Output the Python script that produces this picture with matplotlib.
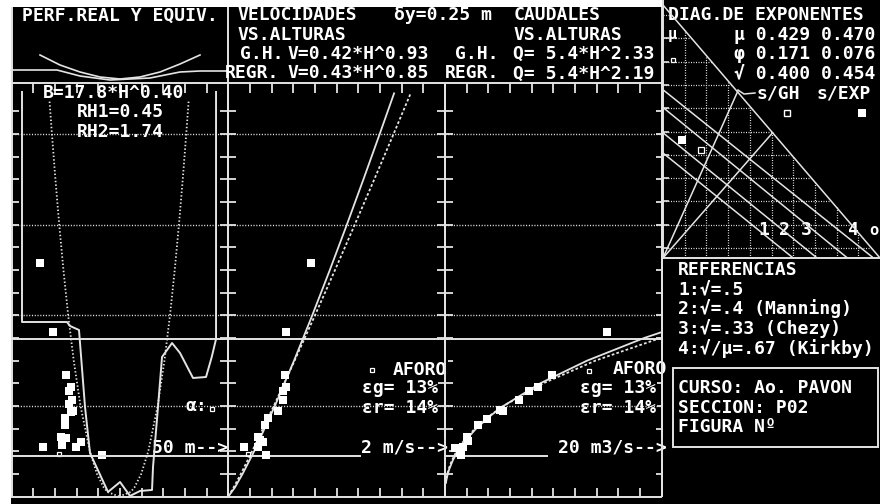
import matplotlib
matplotlib.use("Agg")
import matplotlib.pyplot as plt
from matplotlib.patches import Rectangle

# ---------------- data ----------------
# heights (m) used for the model curves
H_curve = [0.0, 0.1, 0.25, 0.5, 1.0, 1.5, 2.0, 2.5, 3.0, 3.5, 4.0, 4.45]
V_gh = [0.0, 0.049, 0.116, 0.220, 0.420, 0.612, 0.800, 0.985, 1.167, 1.347, 1.525, 1.683]
V_rg = [0.0, 0.061, 0.132, 0.239, 0.430, 0.607, 0.775, 0.937, 1.094, 1.247, 1.397, 1.530]

H_q = [0.15, 0.2, 0.25, 0.3, 0.4, 0.5, 0.6, 0.75, 0.9, 1.0, 1.25, 1.5, 1.75, 2.0]
Q_gh = [0.065, 0.127, 0.214, 0.327, 0.638, 1.074, 1.643, 2.763, 4.224, 5.4, 9.08, 13.89, 19.89, 27.15]
Q_rg = [0.085, 0.159, 0.259, 0.387, 0.726, 1.183, 1.764, 2.876, 4.288, 5.4, 8.80, 13.12, 18.39, 24.64]

# equivalent profile: width B (m) at height H (m)
H_eq = [0.0, 0.05, 0.1, 0.25, 0.5, 1.0, 1.5, 2.0, 2.5, 3.0, 3.5, 4.0, 4.37]
B_eq = [0.0, 5.37, 7.09, 10.22, 13.49, 17.8, 20.93, 23.49, 25.68, 27.62, 29.38, 30.99, 32.11]
axis_eq = 24.8

# real cross-section profile (m across, m height)
prof_x = [2.40, 2.40, 12.78, 13.48, 15.55, 16.94, 18.09, 22.25, 25.02, 27.32, 29.63,
          32.40, 32.63, 33.78, 34.71, 37.02, 38.86, 41.86, 44.86, 46.18, 47.17, 47.17]
prof_h = [4.465, 1.926, 1.926, 1.882, 1.838, 0.988, 0.480, 0.050, 0.160, 0.006, 0.061,
          0.072, 0.326, 0.988, 1.540, 1.694, 1.584, 1.308, 1.319, 1.540, 1.738, 4.465]

# gaugings (AFORO)
p1_x = [6.55, 9.49, 12.55, 13.64, 13.25, 13.87, 14.10, 12.32, 12.32, 11.40, 12.55, 11.56, 7.18, 16.02, 14.86, 20.79, 13.3, 13.8]
p1_h = [2.577, 1.819, 1.341, 1.212, 1.168, 1.065, 0.947, 0.863, 0.789, 0.660, 0.642, 0.568, 0.543, 0.605, 0.543, 0.458, 1.02, 0.93]
p2_v = [0.763, 0.533, 0.523, 0.533, 0.508, 0.502, 0.456, 0.364, 0.339, 0.271, 0.323, 0.277, 0.148, 0.345, 0.29]
p2_h = [2.574, 1.819, 1.341, 1.209, 1.164, 1.065, 0.947, 0.866, 0.789, 0.660, 0.605, 0.550, 0.543, 0.458, 0.62]
p3_q = [14.92, 9.85, 8.61, 7.78, 6.86, 5.33, 3.85, 3.07, 2.15, 2.00, 1.63, 0.92, 1.48, 5.1]
p3_h = [1.819, 1.341, 1.205, 1.168, 1.065, 0.944, 0.855, 0.789, 0.616, 0.660, 0.550, 0.532, 0.458, 0.95]
open_x = [11.01, 0.185, 1.20]  # panel1 (m), panel2 (m/s), panel3 (m3/s)
open_h = 0.469
RH1, RH2 = 0.45, 1.74

# exponent diagram (x: 0..1, y: 0..1)
diag_lines = [([0.0, 1.0], [1.0, 0.0]),
              ([0.0, 0.97], [0.665, 0.0]),
              ([0.0, 0.85], [0.595, 0.0]),
              ([0.0, 0.71], [0.495, 0.0]),
              ([0.0, 0.60], [0.415, 0.0]),
              ([0.0, 0.345], [0.0, 0.66]),
              ([0.0, 0.505], [0.0, 0.495])]
exp_gh = (0.174, 0.427)
exp_ex = (0.087, 0.467)
ref_labels = ["1", "2", "3", "4"]
ref_label_x = [0.44, 0.535, 0.635, 0.85]

# ---------------- styling helpers ----------------
W, HP = 880, 504
LC = "#e4e4e4"
FONT = "DejaVu Sans Mono"
FS = 13.0

fig = plt.figure(figsize=(8.8, 5.04), dpi=100, facecolor="white")
bg = fig.add_axes([0, 0, 1, 1])
bg.set_xlim(0, W)
bg.set_ylim(HP, 0)
bg.axis("off")
bg.add_patch(Rectangle((10.5, 7), 663 - 10.5, HP - 7, facecolor="black", edgecolor="none", zorder=0))
bg.add_patch(Rectangle((662, 0), W - 662, HP, facecolor="black", edgecolor="none", zorder=0))


def seg(x0, y0, x1, y1, ls="-", lw=1.4, z=5, c=LC):
    bg.plot([x0, x1], [y0, y1], color=c, lw=lw, ls=ls, zorder=z, solid_capstyle="butt")


def txt(x, y, s, box=False, z=8, fs=FS):
    kw = dict(color="white", fontsize=fs, family=FONT, weight="bold", ha="left", va="baseline", zorder=z)
    if box:
        kw["bbox"] = dict(facecolor="black", edgecolor="none", pad=0.5)
    bg.text(x, y, s, **kw)


def panel(x0, x1, y0, y1, xlim, ylim):
    ax = fig.add_axes([x0 / W, 1 - y1 / HP, (x1 - x0) / W, (y1 - y0) / HP])
    ax.set_xlim(*xlim)
    ax.set_ylim(*ylim)
    ax.axis("off")
    ax.patch.set_alpha(0)
    return ax


DOT = (0, (0.8, 1.2))
MS_F, MS_O = 5.2, 3.4
Y0, PXM = 496.5, 90.6        # pixel of H=0, pixels per metre
YTOP = 83.0
HTOP = (Y0 - YTOP) / PXM
XL = [11.6, 228.3, 445.0, 661.7]

# ---------------- frames / ticks for the three panels ----------------
seg(10.5, YTOP, 662, YTOP)
seg(10.5, 497, 662, 497)
for xb in XL:
    seg(xb, 7 if xb != 445.0 else YTOP, xb, 497)
for k in range(1, 30):
    xt = XL[0] + k * 21.67
    if xt > 660:
        break
    if abs(xt - 228.3) < 2 or abs(xt - 445) < 2:
        continue
    seg(xt, YTOP, xt, YTOP + 10, lw=1.3)
    seg(xt, 497, xt, 488, lw=1.3)
for k in range(1, 18):
    yt = Y0 - k * 0.25 * PXM
    if yt < YTOP + 2:
        break
    seg(XL[0], yt, XL[0] + 7, yt, lw=1.3)
    seg(XL[1] - 8, yt, XL[1] + 8, yt, lw=1.3)
    seg(XL[2] - 8, yt, XL[2] + 8, yt, lw=1.3)
    seg(XL[3] - 6, yt, XL[3], yt, lw=1.3)

# panels
a1 = panel(XL[0], XL[1], YTOP, 496.5, (0, 50), (0, HTOP))
a2 = panel(XL[1], XL[2], YTOP, 496.5, (0, 2), (0, HTOP))
a3 = panel(XL[2], XL[3], YTOP, 496.5, (0, 20), (0, HTOP))

for ax in (a1, a2, a3):
    for g in (1, 2, 3, 4):
        ax.axhline(g, color=LC, lw=1.0, ls=DOT, zorder=2)
    ax.axhline(RH2, color=LC, lw=1.4, zorder=2)

a1.axhline(RH1, color=LC, lw=1.4, zorder=9)
a2.plot([0, 1.22], [RH1, RH1], color=LC, lw=1.4, zorder=2)
a3.plot([0, 9.4], [RH1, RH1], color=LC, lw=1.4, zorder=2)

# panel 1: profiles
a1.plot(prof_x, prof_h, color=LC, lw=1.4, zorder=4)
a1.plot([axis_eq - b / 2 for b in B_eq], H_eq, color=LC, lw=1.3, ls=DOT, zorder=4)
a1.plot([axis_eq + b / 2 for b in B_eq], H_eq, color=LC, lw=1.3, ls=DOT, zorder=4)
a1.plot(p1_x, p1_h, "s", color="white", ms=MS_F, mew=0, zorder=6)
a1.plot([open_x[0]], [open_h], "s", mfc="none", mec="white", ms=MS_O, mew=0.9, zorder=6)

# panel 2: velocities
a2.plot(V_rg, H_curve, color=LC, lw=1.3, zorder=4)
a2.plot(V_gh, H_curve, color=LC, lw=1.3, ls=(0, (1.5, 1.2)), zorder=4)
a2.plot(p2_v, p2_h, "s", color="white", ms=MS_F, mew=0, zorder=6)
a2.plot([open_x[1]], [open_h], "s", mfc="none", mec="white", ms=MS_O, mew=0.9, zorder=6)

# panel 3: discharges
a3.plot(Q_rg, H_q, color=LC, lw=1.3, zorder=4)
a3.plot(Q_gh, H_q, color=LC, lw=1.3, ls=(0, (1.5, 1.2)), zorder=4)
a3.plot(p3_q, p3_h, "s", color="white", ms=MS_F, mew=0, zorder=6)
a3.plot([open_x[2]], [open_h], "s", mfc="none", mec="white", ms=MS_O, mew=0.9, zorder=6)

# ---------------- header texts ----------------
txt(22, 20.5, "PERF.REAL Y EQUIV.")
txt(238, 20, "VELOCIDADES")
txt(394, 20, "δy=0.25 m")
txt(514, 20, "CAUDALES")
txt(238, 39.5, "VS.ALTURAS")
txt(514, 39.5, "VS.ALTURAS")
txt(240, 59, "G.H.")
txt(287.5, 59, "V=0.42*H^0.93")
txt(455, 59, "G.H.")
txt(513, 59, "Q= 5.4*H^2.33")
txt(225, 78.5, "REGR.")
txt(287.5, 78.5, "V=0.43*H^0.85")
txt(445, 78.5, "REGR.")
txt(513, 78.5, "Q= 5.4*H^2.19")

# section sketch in panel-1 header
sk_x = [40, 60, 80, 100, 120, 140, 160, 180, 200]
sk_y = [55, 65, 72, 77, 79, 77, 72, 64, 55]
bg.plot(sk_x, sk_y, color=LC, lw=1.2, zorder=5)
bg.plot([11, 57, 80, 110, 150, 180, 200, 228], [70, 70, 76, 80, 78, 72, 71, 71], color=LC, lw=1.2, zorder=5)

txt(42.5, 97.5, "B=17.8*H^0.40")
txt(76.5, 117, "RH1=0.45")
txt(76.5, 137, "RH2=1.74")

# panel annotations
txt(151.5, 453, "50 m-->")
txt(185, 411, "α:", box=True)
bg.plot([211.5], [409], "s", mfc="none", mec="white", ms=MS_O, mew=0.9, zorder=9)

bg.plot([371.5], [369.5], "s", mfc="none", mec="white", ms=MS_O, mew=0.9, zorder=9)
txt(393, 375, "AFORO", box=True)
txt(361.5, 393, "εg= 13%", box=True)
txt(361.5, 413, "εr= 14%", box=True)
txt(361, 453, "2 m/s-->", box=True)

bg.plot([589], [370.5], "s", mfc="none", mec="white", ms=MS_O, mew=0.9, zorder=9)
txt(612.5, 374, "AFORO", box=True)
txt(580.5, 393, "εg= 13%", box=True)
txt(580.5, 413, "εr= 14%", box=True)
txt(558, 453, "20 m3/s-->", box=True)

# redraw the panel boundaries over the texts
for xb in XL[1:]:
    seg(xb, YTOP, xb, 497, z=10)

# ---------------- exponent diagram ----------------
a4 = panel(663, 880, 5, 258, (0, 1), (0, 1))
for k in range(1, 10):
    xv = k / 10
    a4.plot([xv, xv], [0, 1 - xv], color=LC, lw=0.9, ls=DOT, zorder=2)
for k in range(0, 11):
    yv = 0.0395 + k * 0.0921
    if yv < 1:
        a4.plot([0, 1 - yv], [yv, yv], color=LC, lw=0.9, ls=DOT, zorder=2)
for lx, ly in diag_lines:
    a4.plot(lx, ly, color=LC, lw=1.1, zorder=3)
a4.plot([exp_gh[0]], [exp_gh[1]], "s", mfc="none", mec="white", ms=3.8, mew=0.9, zorder=5)
a4.plot([exp_ex[0]], [exp_ex[1]], "s", color="white", ms=5.2, mew=0, zorder=5)
seg(663, 0, 663, 258)
seg(663, 258, 880, 258)
for k in range(0, 10):
    yt = 248 - k * 23.3
    seg(663, yt, 669, yt, lw=1.2)

txt(668, 20, "DIAG.DE EXPONENTES")
txt(668, 39, "μ", fs=11)
bg.plot([673], [60], "s", mfc="none", mec="white", ms=MS_O, mew=0.9, zorder=9)
txt(734, 39.5, "μ 0.429 0.470")
txt(734, 59, "φ 0.171 0.076")
txt(734, 78.5, "√ 0.400 0.454")
txt(756.5, 98, "s/GH", box=True)
txt(816.5, 98, "s/EXP", box=True)
bg.plot([738, 744, 755], [90, 94, 93], color=LC, lw=1.1, zorder=9)
bg.plot([786.5], [113], "s", mfc="none", mec="white", ms=4.4, mew=1.0, zorder=9)
bg.plot([861.5], [113], "s", color="white", ms=5.6, mew=0, zorder=9)
for lab, lx in zip(ref_labels, ref_label_x):
    bg.text(663 + lx * 217, 235, lab, color="white", fontsize=FS, family=FONT, weight="bold",
            ha="left", va="baseline", zorder=9, bbox=dict(facecolor="black", edgecolor="none", pad=0.3))
txt(869, 235, "o", box=True, fs=11)

# ---------------- reference / info boxes ----------------
txt(678, 275, "REFERENCIAS")
txt(678, 294.5, "1:√=.5")
txt(678, 314, "2:√=.4 (Manning)")
txt(678, 334.5, "3:√=.33 (Chezy)")
txt(678, 354, "4:√/μ=.67 (Kirkby)")
bg.add_patch(Rectangle((673, 368), 205, 79, facecolor="none", edgecolor=LC, lw=1.4, zorder=6))
txt(678, 393, "CURSO: Ao. PAVON")
txt(678, 413, "SECCION: P02")
txt(678, 432.5, "FIGURA Nº")

fig.savefig("out.png", dpi=100, facecolor="white")
